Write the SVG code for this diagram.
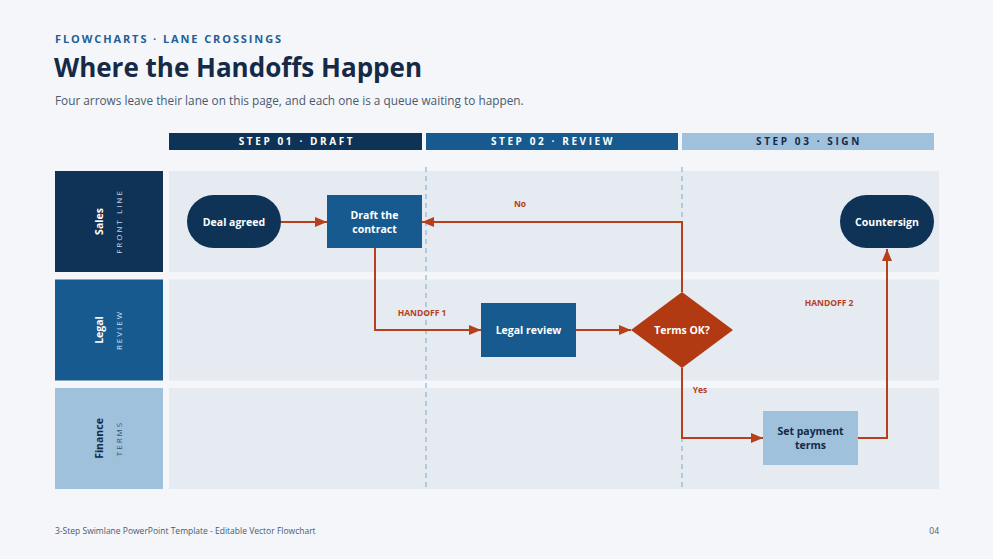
<svg xmlns="http://www.w3.org/2000/svg" width="993" height="559" viewBox="0 0 993 559">
<defs>
<style>
.bg{fill:#f4f6fa}
.lane{fill:#e6ebf2}
.navy{fill:#0e3356}
.blue{fill:#165a8f}
.light{fill:#9fc1dc}
.t{font-family:"Open Sans","Noto Sans","Liberation Sans",sans-serif}
.kicker{font-size:11px;font-weight:700;letter-spacing:1.9px;fill:#1f5f96}
.title{font-size:26px;font-weight:700;fill:#142a46}
.sub{font-size:11.8px;fill:#4a5a6e}
.step{font-size:10px;font-weight:700;letter-spacing:2.6px;text-anchor:middle}
.lname{font-size:10.5px;font-weight:700;text-anchor:middle}
.lsub{font-size:8px;letter-spacing:2px;text-anchor:middle}
.ntext{font-size:10.5px;font-weight:700;text-anchor:middle;fill:#ffffff}
.clabel{font-size:8.5px;font-weight:700;fill:#b5401a;text-anchor:middle}
.foot{font-size:8.5px;fill:#4a5a6e}
.conn{fill:none;stroke:#b5401a;stroke-width:2}
.div{stroke:#9fc1dc;stroke-width:1.5;stroke-dasharray:5 4}
</style>
<marker id="arr" viewBox="0 0 12 10" refX="12" refY="5" markerWidth="12" markerHeight="10" markerUnits="userSpaceOnUse" orient="auto">
<path d="M0,0 L12,5 L0,10 Z" fill="#b5401a"/>
</marker>
</defs>
<rect class="bg" x="0" y="0" width="993" height="559"/>

<g id="header">
<text class="t kicker" x="55" y="43">FLOWCHARTS · LANE CROSSINGS</text>
<text class="t title" x="54" y="77">Where the Handoffs Happen</text>
<text class="t sub" x="55" y="105">Four arrows leave their lane on this page, and each one is a queue waiting to happen.</text>
</g>

<g id="steps">
<rect class="navy" x="169" y="133" width="253" height="17"/>
<text class="t step" x="297" y="145" fill="#ffffff">STEP 01 · DRAFT</text>
<rect class="blue" x="426" y="133" width="252" height="17"/>
<text class="t step" x="553" y="145" fill="#ffffff">STEP 02 · REVIEW</text>
<rect class="light" x="682" y="133" width="252" height="17"/>
<text class="t step" x="809" y="145" fill="#142a46">STEP 03 · SIGN</text>
</g>

<g id="lanes">
<g id="lane-sales">
<rect class="navy" x="55" y="171" width="108" height="101"/>
<rect class="lane" x="169" y="171" width="770" height="101"/>
<text class="t lname" transform="translate(99,221.5) rotate(-90)" dy="0.35em" fill="#ffffff">Sales</text>
<text class="t lsub" transform="translate(119,221.5) rotate(-90)" dy="0.35em" fill="#c9d7e6">FRONT LINE</text>
</g>
<g id="lane-legal">
<rect class="blue" x="55" y="279.5" width="108" height="101"/>
<rect class="lane" x="169" y="279.5" width="770" height="101"/>
<text class="t lname" transform="translate(99,330) rotate(-90)" dy="0.35em" fill="#ffffff">Legal</text>
<text class="t lsub" transform="translate(119,330) rotate(-90)" dy="0.35em" fill="#d2e0ee">REVIEW</text>
</g>
<g id="lane-finance">
<rect class="light" x="55" y="388" width="108" height="101"/>
<rect class="lane" x="169" y="388" width="770" height="101"/>
<text class="t lname" transform="translate(99,438.5) rotate(-90)" dy="0.35em" fill="#142a46">Finance</text>
<text class="t lsub" transform="translate(119,438.5) rotate(-90)" dy="0.35em" fill="#3d5570">TERMS</text>
</g>
</g>

<g id="dividers">
<line class="div" x1="426" y1="167" x2="426" y2="490"/>
<line class="div" x1="682" y1="167" x2="682" y2="490"/>
</g>

<g id="connectors">
<line class="conn" x1="281" y1="222" x2="327" y2="222" marker-end="url(#arr)"/>
<polyline class="conn" points="375,248 375,330 481,330" marker-end="url(#arr)"/>
<line class="conn" x1="576" y1="330" x2="631" y2="330" marker-end="url(#arr)"/>
<polyline class="conn" points="682,292 682,222 422,222" marker-end="url(#arr)"/>
<polyline class="conn" points="682,368 682,438 763,438" marker-end="url(#arr)"/>
<polyline class="conn" points="858,438 887,438 887,249" marker-end="url(#arr)"/>
<text class="t clabel" x="422" y="316">HANDOFF 1</text>
<text class="t clabel" x="520" y="207">No</text>
<text class="t clabel" x="700" y="393">Yes</text>
<text class="t clabel" x="829" y="306">HANDOFF 2</text>
</g>

<g id="node-deal">
<rect class="navy" x="187" y="195" width="94" height="53" rx="26.5"/>
<text class="t ntext" x="234" y="225.5">Deal agreed</text>
</g>
<g id="node-draft">
<rect class="blue" x="327" y="195" width="95" height="53"/>
<text class="t ntext" x="374.5" y="219">Draft the</text>
<text class="t ntext" x="374.5" y="233">contract</text>
</g>
<g id="node-countersign">
<rect class="navy" x="840" y="195" width="94" height="53" rx="26.5"/>
<text class="t ntext" x="887" y="225.5">Countersign</text>
</g>
<g id="node-legal-review">
<rect class="blue" x="481" y="303" width="95" height="54"/>
<text class="t ntext" x="528.5" y="333.5">Legal review</text>
</g>
<g id="node-terms">
<polygon points="682,292 733,330 682,368 631,330" fill="#b23a12"/>
<text class="t ntext" x="682" y="333.5">Terms OK?</text>
</g>
<g id="node-payment">
<rect class="light" x="763" y="411" width="95" height="54"/>
<text class="t ntext" x="810.5" y="435" style="fill:#142a46">Set payment</text>
<text class="t ntext" x="810.5" y="449" style="fill:#142a46">terms</text>
</g>

<g id="footer">
<text class="t foot" x="55" y="534">3-Step Swimlane PowerPoint Template - Editable Vector Flowchart</text>
<text class="t foot" x="939" y="534" text-anchor="end">04</text>
</g>
</svg>
